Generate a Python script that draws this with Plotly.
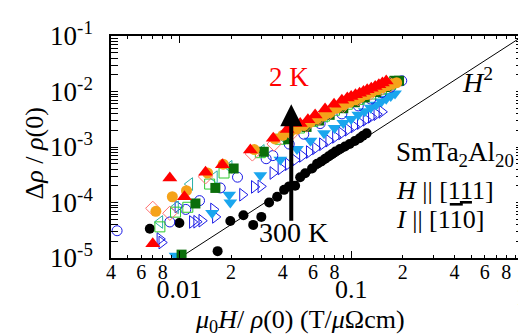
import numpy as np
import plotly.graph_objects as go

# ---------------- data ----------------
# 2 K  (red filled up-triangles)
red_x = [0.0070, 0.0088, 0.0107, 0.0142, 0.0178, 0.0259, 0.0352, 0.0424, 0.0505, 0.056,
         0.0617, 0.0705, 0.0795, 0.0883, 0.095, 0.100, 0.106, 0.112, 0.118, 0.124,
         0.131, 0.138, 0.145, 0.152, 0.160]
red_y = [1.8e-5, 2.75e-4, 1.27e-4, 3.5e-4, 4.8e-4, 8.8e-4, 1.44e-3, 2.07e-3, 2.64e-3, 3.1e-3,
         3.79e-3, 4.83e-3, 5.9e-3, 6.95e-3, 7.6e-3, 8.1e-3, 8.7e-3, 9.3e-3, 1.0e-2, 1.07e-2,
         1.14e-2, 1.23e-2, 1.32e-2, 1.42e-2, 1.54e-2]

# orange filled circles
ora_x = [0.0073, 0.0091, 0.0110, 0.0146, 0.0180, 0.0273, 0.036, 0.040, 0.044, 0.048,
         0.053, 0.058, 0.063, 0.069, 0.075, 0.0826, 0.090, 0.098, 0.106, 0.114,
         0.123, 0.132, 0.142, 0.152, 0.163, 0.174, 0.184]
ora_y = [6.95e-5, 1.27e-4, 1.63e-4, 3.4e-4, 4.9e-4, 9.0e-4, 1.4e-3, 1.62e-3, 1.85e-3, 2.1e-3,
         2.45e-3, 2.8e-3, 3.2e-3, 3.65e-3, 4.15e-3, 5.0e-3, 5.7e-3, 6.4e-3, 7.1e-3, 7.9e-3,
         8.8e-3, 9.7e-3, 1.07e-2, 1.17e-2, 1.28e-2, 1.37e-2, 1.44e-2]

# pink open diamonds
pnk_x = [0.0070, 0.0088, 0.0142, 0.0266, 0.0356, 0.045, 0.055, 0.065, 0.075, 0.090,
         0.110, 0.130, 0.150, 0.170]
pnk_y = [7.85e-5, 6.4e-5, 2.9e-4, 7.5e-4, 1.13e-3, 1.75e-3, 2.5e-3, 3.3e-3, 4.2e-3, 5.6e-3,
         7.4e-3, 9.4e-3, 1.13e-2, 1.32e-2]

# teal open left-triangles
tea_x = [0.0077, 0.0095, 0.0115, 0.0160, 0.0195, 0.030, 0.040, 0.055, 0.070, 0.090,
         0.115, 0.140, 0.165]
tea_y = [4.46e-5, 8.2e-5, 2.15e-4, 2.86e-4, 4.4e-4, 8.5e-4, 1.5e-3, 2.5e-3, 3.6e-3, 5.3e-3,
         7.6e-3, 1.0e-2, 1.3e-2]

# green open squares
grn_x = [0.0077, 0.0095, 0.0112, 0.0150, 0.0182, 0.0296, 0.0387, 0.050, 0.060, 0.070,
         0.080, 0.095, 0.110, 0.130, 0.150, 0.170, 0.179]
grn_y = [3.64e-5, 6.7e-5, 8.2e-5, 2.15e-4, 3.4e-4, 7.9e-4, 1.38e-3, 2.2e-3, 2.9e-3, 3.6e-3,
         4.6e-3, 5.9e-3, 7.2e-3, 9.0e-3, 1.1e-2, 1.35e-2, 1.5e-2]

# dark green filled squares
dgr_x = [0.0103, 0.0124, 0.0162, 0.0207, 0.031, 0.043, 0.055, 0.065, 0.075, 0.090,
         0.105, 0.120, 0.140, 0.160, 0.179, 0.190]
dgr_y = [1.15e-5, 9.6e-5, 1.83e-4, 4.1e-4, 8.2e-4, 1.38e-3, 2.3e-3, 3.0e-3, 3.8e-3, 5.0e-3,
         6.4e-3, 7.8e-3, 9.8e-3, 1.2e-2, 1.56e-2, 1.56e-2]

# blue open circles
bci_x = [0.00434, 0.0088, 0.0109, 0.0131, 0.0173, 0.0218, 0.032, 0.035, 0.0436, 0.053,
         0.066, 0.0883, 0.110, 0.130, 0.150, 0.170, 0.197]
bci_y = [3.1e-5, 4.46e-5, 7.5e-5, 1.08e-4, 1.83e-4, 2.86e-4, 6.15e-4, 7.0e-4, 1.13e-3, 1.7e-3,
         2.64e-3, 3.95e-3, 5.5e-3, 7.3e-3, 9.5e-3, 1.2e-2, 1.56e-2]

# light blue filled down-triangles
lbl_x = [0.0095, 0.0155, 0.0195, 0.0198, 0.0296, 0.0387, 0.0484, 0.058, 0.0695, 0.080,
         0.090, 0.100, 0.110, 0.120, 0.130, 0.140, 0.150, 0.160, 0.170, 0.180]
lbl_y = [1.1e-5, 6.5e-5, 1.38e-4, 1.0e-4, 3.1e-4, 5.9e-4, 9.2e-4, 1.3e-3, 1.76e-3, 2.2e-3,
         2.7e-3, 3.2e-3, 3.8e-3, 4.4e-3, 5.1e-3, 5.8e-3, 6.6e-3, 7.4e-3, 8.3e-3, 9.2e-3]

# blue open right-triangles
brt_x = [0.0077, 0.0079, 0.0098, 0.0119, 0.0126, 0.0135, 0.0158, 0.0162, 0.0233, 0.0273,
         0.0298, 0.035, 0.039, 0.043, 0.047, 0.052, 0.057, 0.062, 0.068, 0.074,
         0.081, 0.088, 0.096, 0.104, 0.113, 0.122, 0.131, 0.141, 0.151]
brt_y = [2.2e-5, 1.9e-5, 8.5e-5, 4.46e-5, 4.5e-5, 4.7e-5, 7.5e-5, 5.5e-5, 1.38e-4, 1.91e-4,
         1.95e-4, 3.4e-4, 4.1e-4, 4.9e-4, 5.8e-4, 6.9e-4, 8.1e-4, 9.5e-4, 1.12e-3, 1.3e-3,
         1.52e-3, 1.76e-3, 2.05e-3, 2.35e-3, 2.7e-3, 3.1e-3, 3.5e-3, 3.9e-3, 4.3e-3]

# 300 K (black filled circles)
blk_x = [0.00673, 0.010, 0.0167, 0.0198, 0.0236, 0.0269, 0.030, 0.0333, 0.0371, 0.0407,
         0.0435, 0.0472, 0.0505, 0.054, 0.0592, 0.0633, 0.067, 0.0705, 0.074, 0.0773,
         0.081, 0.086, 0.092, 0.098, 0.105, 0.112, 0.117, 0.123]
blk_y = [3.36e-5, 4.27e-5, 1.33e-5, 4.65e-5, 5.9e-5, 3.95e-5, 5.5e-5, 1.0e-4, 1.27e-4, 1.69e-4,
         1.95e-4, 2.0e-4, 2.86e-4, 3.36e-4, 4.1e-4, 5.0e-4, 5.5e-4, 6.15e-4, 6.8e-4, 7.5e-4,
         8.3e-4, 9.2e-4, 1.02e-3, 1.13e-3, 1.28e-3, 1.44e-3, 1.6e-3, 1.76e-3]

# H^2 guide line endpoints
h2_x = [0.01, 1.0]
h2_y = [1e-5, 1e-1]

# axis ticks
y_major = [1e-5, 1e-4, 1e-3, 1e-2, 1e-1]
y_major_text = ["10<sup>-5</sup>", "10<sup>-4</sup>", "10<sup>-3</sup>", "10<sup>-2</sup>", "10<sup>-1</sup>"]
x_minor_lab = [0.004, 0.006, 0.008, 0.02, 0.04, 0.06, 0.08, 0.2, 0.4, 0.6, 0.8]
x_minor_text = ["4", "6", "8", "2", "4", "6", "8", "2", "4", "6", "8"]
x_major = [0.01, 0.1, 1]
x_major_text = ["0.01", "0.1", "1"]

# ---------------- figure ----------------
SERIF = "Liberation Serif, Times New Roman, serif"
XRANGE = [np.log10(0.004), 0.0003]
fig = go.Figure()

def add(x, y, symbol, color, size, filled=True, lw=1.0):
    if filled:
        marker = dict(symbol=symbol, color=color, size=size, line=dict(width=0))
    else:
        marker = dict(symbol=symbol + "-open", color=color, size=size, line=dict(width=lw, color=color))
    fig.add_trace(go.Scatter(x=x, y=y, mode="markers", marker=marker, showlegend=False,
                             hoverinfo="skip"))

fig.add_trace(go.Scatter(x=h2_x, y=h2_y, mode="lines", line=dict(color="black", width=1),
                         showlegend=False, hoverinfo="skip"))
add(brt_x, brt_y, "triangle-right", "#1a1ae6", 11, filled=False)
add(blk_x, blk_y, "circle", "black", 10)
add(lbl_x, lbl_y, "triangle-down", "#1aa6ee", 12)
add(bci_x, bci_y, "circle", "#1a1ae6", 10, filled=False)
add(tea_x, tea_y, "triangle-left", "#2ab0a8", 11, filled=False)
add(grn_x, grn_y, "square", "#2ecc2e", 10, filled=False)
add(dgr_x, dgr_y, "square", "#0b6e0b", 10)
add(pnk_x, pnk_y, "diamond", "#ff7070", 11, filled=False)
add(ora_x, ora_y, "circle", "#f5a31a", 11)
add(red_x, red_y, "triangle-up", "#ff0000", 13)

axis_common = dict(showline=True, linecolor="black", linewidth=1.5, mirror="allticks",
                   ticks="inside", tickcolor="black", showgrid=False, zeroline=False)

fig.update_layout(
    width=526, height=335,
    margin=dict(l=103, r=9, t=22, b=85),
    paper_bgcolor="white", plot_bgcolor="white",
    font=dict(family=SERIF, color="black"),
    xaxis=dict(type="log", range=XRANGE, tickmode="array",
               tickvals=x_minor_lab, ticktext=x_minor_text, ticklen=3, tickwidth=1,
               tickfont=dict(family=SERIF, size=20), ticklabelstandoff=-5,
               minor=dict(ticks="inside", ticklen=3, tickwidth=1, tickcolor="black", tickmode="array",
                          tickvals=[0.005, 0.007, 0.009, 0.03, 0.05, 0.07, 0.09,
                                    0.3, 0.5, 0.7, 0.9]),
               **axis_common),
    xaxis2=dict(type="log", range=XRANGE, overlaying="x", anchor="y", side="bottom",
                tickmode="array", tickvals=x_major, ticktext=x_major_text[:2] + [""],
                ticklen=7, tickwidth=1,
                tickfont=dict(family=SERIF, size=26), ticklabelstandoff=13,
                showline=False, mirror="ticks", ticks="inside", tickcolor="black",
                showgrid=False, zeroline=False),
    yaxis=dict(type="log", range=[-5, -1], tickmode="array", tickvals=y_major,
               ticktext=y_major_text, ticklen=7, tickwidth=1,
               tickfont=dict(family=SERIF, size=27), ticklabelstandoff=11,
               minor=dict(ticks="inside", ticklen=3, tickwidth=1, tickcolor="black", tickmode="array",
                          tickvals=[m * 10.0 ** e for e in range(-5, -1) for m in range(2, 10)]),
               **axis_common),
)

# invisible trace so that xaxis2 is drawn
fig.add_trace(go.Scatter(x=[0.5], y=[1e-3], xaxis="x2", mode="markers",
                         marker=dict(opacity=0), showlegend=False, hoverinfo="skip"))

ann = []
# last major x label (at the right edge of the axis)
ann.append(dict(text=x_major_text[2], xref="x", yref="paper", x=np.log10(x_major[2]), y=-0.175,
                showarrow=False, font=dict(family=SERIF, size=26), xanchor="center",
                yanchor="middle"))
# axis titles
ann.append(dict(text="Δ<i>ρ</i> / <i>ρ</i>(0)", xref="paper", yref="paper", x=-0.185, y=0.47,
                textangle=-90, showarrow=False, font=dict(family=SERIF, size=26),
                xanchor="center", yanchor="middle"))
ann.append(dict(text="<i>μ</i><sub>0</sub><i>H</i>/ <i>ρ</i>(0) (T/<i>μ</i>Ωcm)", xref="paper",
                yref="paper", x=0.459, y=-0.285, showarrow=False,
                font=dict(family=SERIF, size=26), xanchor="center", yanchor="middle"))
# labels
ann.append(dict(text="2 K", xref="paper", yref="paper", x=0.432, y=0.815, showarrow=False,
                font=dict(family=SERIF, size=27, color="#ff0000"), xanchor="center", yanchor="middle"))
ann.append(dict(text="300 K", xref="paper", yref="paper", x=0.444, y=0.115, showarrow=False,
                font=dict(family=SERIF, size=28), xanchor="center", yanchor="middle"))
ann.append(dict(text="<i>H</i><sup>2</sup>", xref="paper", yref="paper", x=0.89, y=0.80,
                showarrow=False, font=dict(family=SERIF, size=28), xanchor="center", yanchor="middle"))
ann.append(dict(text="SmTa<sub>2</sub>Al<sub>20</sub>", xref="paper", yref="paper", x=0.686, y=0.47,
                showarrow=False, font=dict(family=SERIF, size=27), xanchor="left", yanchor="middle"))
ann.append(dict(text="<i>H</i> || [1<u>1</u>1]", xref="paper", yref="paper", x=0.686, y=0.305,
                showarrow=False, font=dict(family=SERIF, size=26), xanchor="left", yanchor="middle"))
ann.append(dict(text="<i>I</i> || [1<span style='text-decoration:overline'>1</span>0]", xref="paper",
                yref="paper", x=0.686, y=0.175,
                showarrow=False, font=dict(family=SERIF, size=26), xanchor="left", yanchor="middle"))
# arrow (tip at 2 K side, tail toward 300 K)
ann.append(dict(x=np.log10(0.0448), y=np.log10(5.9e-3), xref="x", yref="y", ax=0, ay=118,
                axref="pixel", ayref="pixel", showarrow=True, arrowhead=2, arrowsize=1.1,
                arrowwidth=4, arrowcolor="black", text=""))
fig.update_layout(annotations=ann)

fig.write_html("out.html")
